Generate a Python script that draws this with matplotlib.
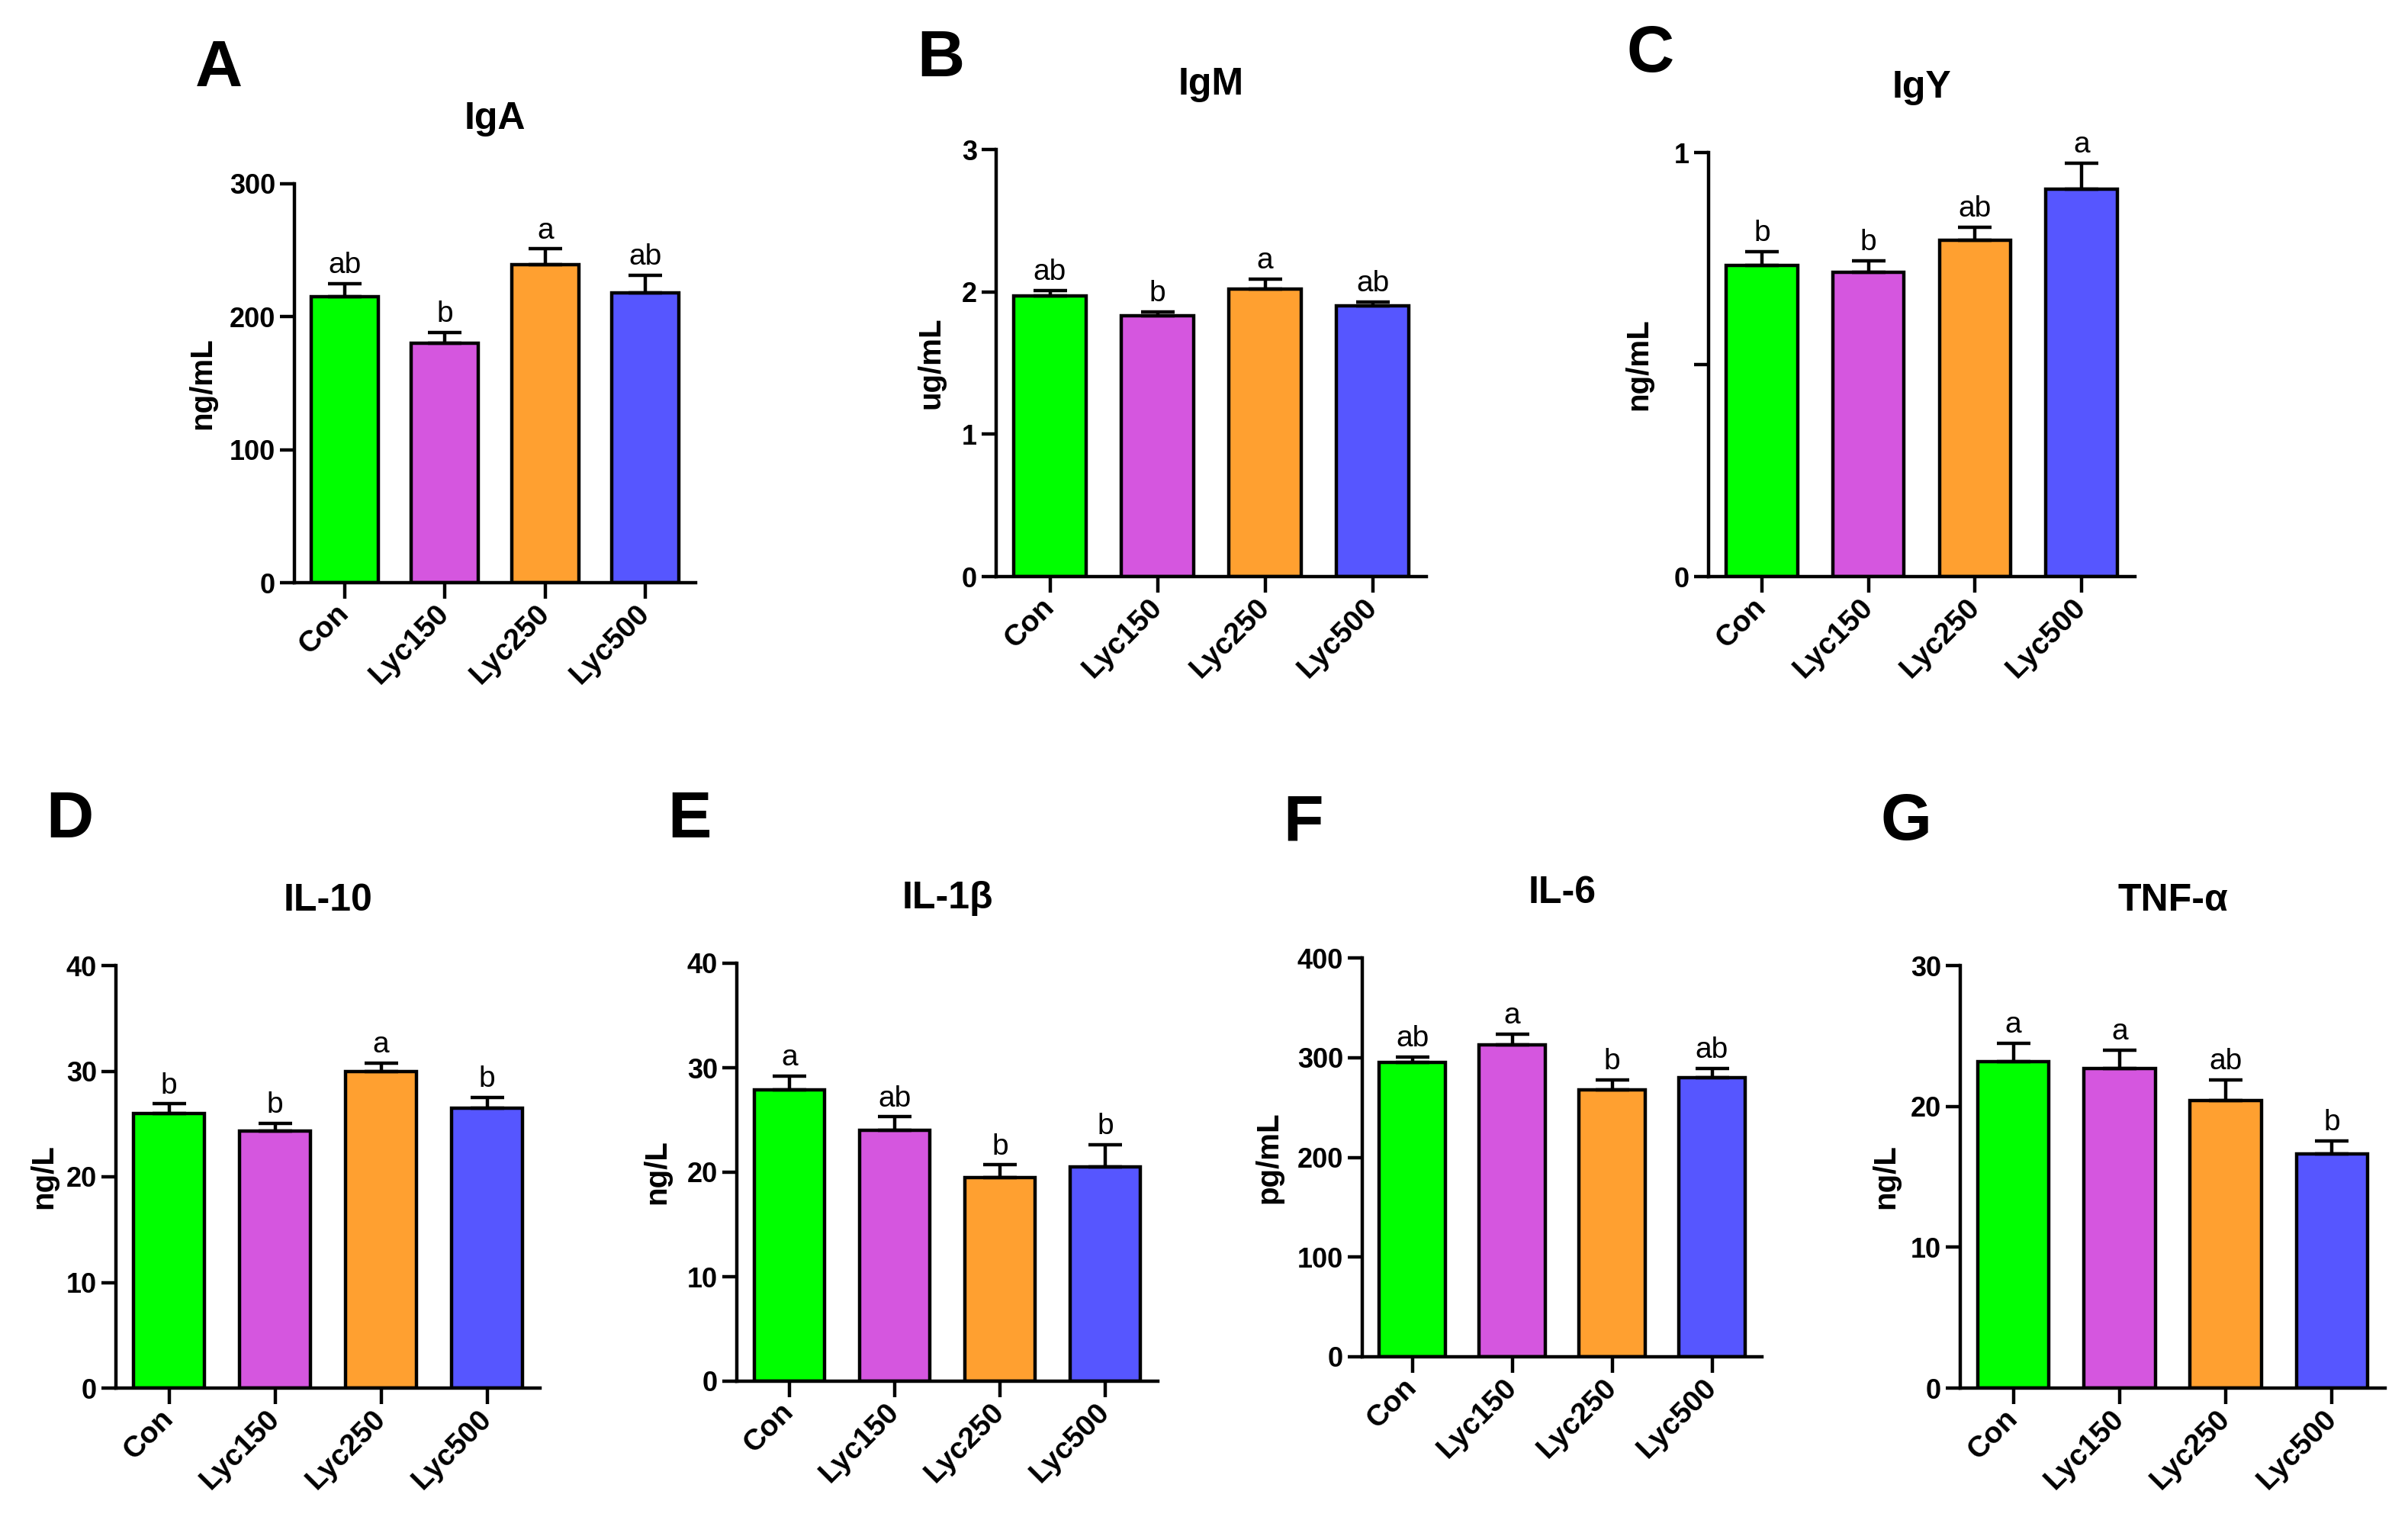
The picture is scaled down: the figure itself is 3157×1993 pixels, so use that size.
import matplotlib
matplotlib.use("Agg")
import matplotlib.pyplot as plt

plt.rcParams['font.family'] = ['Liberation Sans', 'DejaVu Sans']

W, H = 3157, 1993

groups = ['Con', 'Lyc150', 'Lyc250', 'Lyc500']
colors = ['#00FF00', '#D556DF', '#FFA030', '#5656FF']

# panel data
iga = [215, 180, 239, 218]
iga_err = [10, 8, 12, 13]
iga_sig = ['ab', 'b', 'a', 'ab']

igm = [1.97, 1.83, 2.02, 1.90]
igm_err = [0.04, 0.03, 0.07, 0.03]
igm_sig = ['ab', 'b', 'a', 'ab']

igy = [0.733, 0.717, 0.793, 0.913]
igy_err = [0.033, 0.027, 0.031, 0.062]
igy_sig = ['b', 'b', 'ab', 'a']

il10 = [26.0, 24.3, 30.0, 26.5]
il10_err = [0.9, 0.75, 0.75, 1.0]
il10_sig = ['b', 'b', 'a', 'b']

il1b = [27.9, 24.0, 19.5, 20.5]
il1b_err = [1.3, 1.3, 1.2, 2.1]
il1b_sig = ['a', 'ab', 'b', 'b']

il6 = [295, 313, 268, 280]
il6_err = [5.5, 10.5, 9.5, 9]
il6_sig = ['ab', 'a', 'b', 'ab']

tnf = [23.2, 22.7, 20.4, 16.6]
tnf_err = [1.3, 1.3, 1.5, 0.95]
tnf_sig = ['a', 'a', 'ab', 'b']

panels = [
    # letter, title, unit, values, errors, letters, yticks, yticklabels
    ('A', 'IgA', 'ng/mL', iga, iga_err, iga_sig, [0, 100, 200, 300], None),
    ('B', 'IgM', 'ug/mL', igm, igm_err, igm_sig, [0, 1, 2, 3], None),
    ('C', 'IgY', 'ng/mL', igy, igy_err, igy_sig, [0, 0.5, 1], ['0', '', '1']),
    ('D', 'IL-10', 'ng/L', il10, il10_err, il10_sig, [0, 10, 20, 30, 40], None),
    ('E', 'IL-1β', 'ng/L', il1b, il1b_err, il1b_sig, [0, 10, 20, 30, 40], None),
    ('F', 'IL-6', 'pg/mL', il6, il6_err, il6_sig, [0, 100, 200, 300, 400], None),
    ('G', 'TNF-α', 'ng/L', tnf, tnf_err, tnf_sig, [0, 10, 20, 30], None),
]

# axes boxes in pixels: left, right, top, bottom ; ylabel offset ; panel letter pos
boxes = [
    (386, 912, 241, 764, 121, (287, 91)),
    (1306, 1870, 196, 756, 85, (1233, 78)),
    (2240, 2799, 200, 756, 92, (2164, 72)),
    (152, 708, 1266, 1820, 95, (91, 1076)),
    (966, 1518, 1263, 1811, 105, (904, 1076)),
    (1786, 2310, 1256, 1779, 123, (1709, 1081)),
    (2570, 3127, 1266, 1820, 98, (2499, 1079)),
]

fig = plt.figure(figsize=(W / 100, H / 100), dpi=100)

lw = 3.2
for (letter, title, unit, vals, errs, sig, yt, ytl), (l, r, t, b, ylo, lpos) in zip(panels, boxes):
    ax = fig.add_axes([l / W, 1 - b / H, (r - l) / W, (b - t) / H])
    x = list(range(len(groups)))
    ax.bar(x, vals, width=0.67, color=colors, edgecolor='black', linewidth=lw, zorder=2)
    ax.errorbar(x, vals, yerr=[[0] * len(errs), errs], fmt='none', ecolor='black',
                elinewidth=lw, capsize=16, capthick=lw, zorder=3)
    for xi, v, e, s in zip(x, vals, errs, sig):
        ax.annotate(s, (xi, v + e), xytext=(0, 10), textcoords='offset points',
                    ha='center', va='baseline', fontsize=28)

    ax.set_xlim(-0.5, 3.5)
    ax.set_ylim(0, yt[-1])
    ax.set_yticks(yt)
    if ytl is not None:
        ax.set_yticklabels(ytl)
    ax.set_xticks(x)
    ax.set_xticklabels(groups, rotation=45, ha='right', va='center',
                       rotation_mode='anchor', fontweight='bold', fontsize=28)
    for lab in ax.get_yticklabels():
        lab.set_fontweight('bold')
        lab.set_fontsize(26)

    for side in ['top', 'right']:
        ax.spines[side].set_visible(False)
    for side in ['left', 'bottom']:
        ax.spines[side].set_linewidth(lw)
    ax.tick_params(axis='y', length=14, width=lw, pad=4)
    ax.tick_params(axis='x', length=15, width=lw, pad=10)

    ax.set_ylabel(unit, fontsize=29, fontweight='bold')
    ax.yaxis.label.set(va='center')
    ax.yaxis.set_label_coords(-ylo / (r - l), 0.5)

    fig.text((l + r) / 2 / W, 1 - (t - 85) / H, title, ha='center', va='center',
             fontsize=36, fontweight='bold')
    fig.text(lpos[0] / W, 1 - lpos[1] / H, letter, ha='center', va='center',
             fontsize=62, fontweight='bold')

fig.savefig('out.png', dpi=100, facecolor='white')
